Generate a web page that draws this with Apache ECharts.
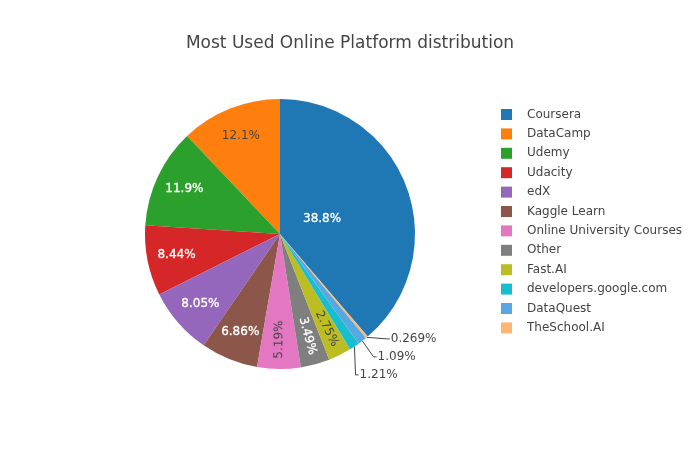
<!DOCTYPE html>
<html><head><meta charset="utf-8">
<script src="https://cdn.jsdelivr.net/npm/echarts@6/dist/echarts.min.js"></script>
<style>html,body{margin:0;padding:0;background:#fff}#c{width:700px;height:450px}</style>
</head><body><div id="c"></div>
<script>
const categories = ['Coursera','DataCamp','Udemy','Udacity','edX','Kaggle Learn','Online University Courses','Other','Fast.AI','developers.google.com','DataQuest','TheSchool.AI'];
const shares = [38.8, 12.1, 11.9, 8.44, 8.05, 6.86, 5.19, 3.49, 2.75, 1.21, 1.09, 0.269];
const colors = ['#1f77b4','#ff7f0e','#2ca02c','#d62728','#9467bd','#8c564b','#e377c2','#7f7f7f','#bcbd22','#17becf','#57a8e2','#ffb574'];

const FONT = '"DejaVu Sans", Verdana, sans-serif';
const total = shares.reduce((a, b) => a + b, 0);
const startAngle = 90 - 360 * shares[0] / total;
const CX = 280, CY = 234, R = 135;
const darkText = new Set([1, 6, 8]);
const radialText = new Set([6, 7, 8]);
const outsideIdx = new Set([9, 10, 11]);
const fmt = p => shares[p.dataIndex] + '%';

const labelColor = i => darkText.has(i)
  ? { color: '#444', textBorderWidth: 0 }
  : { color: '#fff', textBorderColor: '#fff', textBorderWidth: 0.3 };

const mainData = categories.map((name, i) => ({
  name, value: shares[i],
  itemStyle: { color: colors[i] },
  label: { show: outsideIdx.has(i) },
  labelLine: { show: outsideIdx.has(i) }
}));
const ringData = categories.map((name, i) => ({
  name, value: shares[i],
  label: Object.assign({
    show: i >= 1 && i <= 8,
    rotate: radialText.has(i) ? 'radial' : 0
  }, labelColor(i))
}));
const coreData = categories.map((name, i) => ({
  name, value: shares[i],
  label: Object.assign({ show: i === 0 }, labelColor(i))
}));

const transparentBase = {
  type: 'pie', center: [CX, CY], startAngle, clockwise: false,
  silent: true, legendHoverLink: false, avoidLabelOverlap: false,
  itemStyle: { color: 'rgba(0,0,0,0)', borderWidth: 0 },
  emphasis: { disabled: true },
  labelLine: { show: false },
  label: { position: 'inside', formatter: fmt, fontFamily: FONT, fontSize: 12 }
};

const chart = echarts.init(document.getElementById('c'), null, { renderer: 'canvas' });
chart.setOption({
  animation: false,
  backgroundColor: '#fff',
  title: {
    text: 'Most Used Online Platform distribution',
    left: 'center', top: 35, padding: 0,
    textStyle: { fontFamily: FONT, fontSize: 17, fontWeight: 'normal', color: '#444' }
  },
  legend: {
    orient: 'vertical', left: 501, top: 107.5, padding: 0,
    data: categories,
    icon: 'rect', itemWidth: 11, itemHeight: 11, itemGap: 5.4,
    selectedMode: false,
    textStyle: { fontFamily: FONT, fontSize: 12, color: '#444', lineHeight: 14, padding: [0, 0, 0, 10] }
  },
  series: [
    {
      type: 'pie', center: [CX, CY], radius: R, startAngle, clockwise: false,
      avoidLabelOverlap: true,
      itemStyle: { borderWidth: 0 },
      emphasis: { disabled: true },
      label: { position: 'outside', formatter: fmt, fontFamily: FONT, fontSize: 12, color: '#444', lineHeight: 16, distanceToLabelLine: 1 },
      labelLine: { length: 2, length2: 3, lineStyle: { color: '#444', width: 1 } },
      data: mainData
    },
    Object.assign({}, transparentBase, { radius: [R * 0.52, R], data: ringData }),
    Object.assign({}, transparentBase, { radius: [0, R * 0.62], data: coreData })
  ]
});
</script>
</body></html>
